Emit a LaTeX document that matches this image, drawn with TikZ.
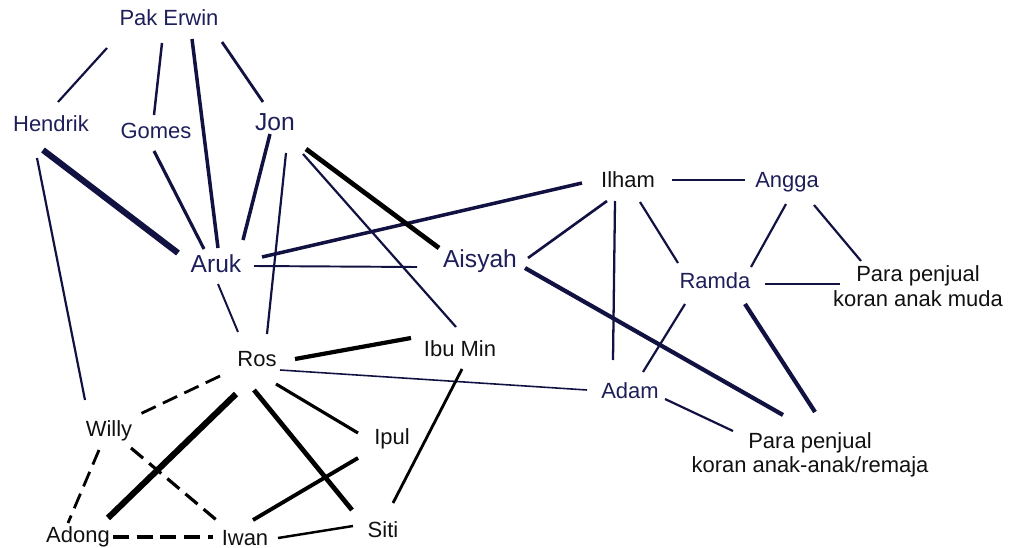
\documentclass[tikz,border=0pt]{standalone}
\usepackage{fontspec}
\setmainfont{Liberation Sans}
\usepackage{tikz}
\usetikzlibrary{calc}
\definecolor{navyline}{RGB}{18,18,66}
\definecolor{navytext}{RGB}{30,30,90}
\definecolor{blacktext}{RGB}{17,17,17}

\begin{document}
\begin{tikzpicture}[x=0.2mm,y=-0.2mm,
  who/.style={font=\fontsize{12.5}{14}\selectfont,text height=9pt,text depth=0pt,inner sep=0pt},
  whobig/.style={who,font=\fontsize{14}{16}\selectfont,text height=10pt},
  crowd/.style={font=\fontsize{12.5}{14}\selectfont,align=center,inner sep=0pt,text=blacktext},
  navylink/.style={draw=navyline,line width=#1},
  blacklink/.style={draw=black,line width=#1},
  dashlink/.style={draw=black,line width=#1,dash pattern=on 9pt off 4.5pt}]
\useasboundingbox (0,0) rectangle (1012,548);
% top group
\node[who,text=navytext] (perwin) at (169,18) {Pak Erwin}; % Pak Erwin
\node[who,text=navytext] (hendrik) at (51,124) {Hendrik}; % Hendrik
\node[who,text=navytext] (gomes) at (156,131) {Gomes}; % Gomes
\node[whobig,text=navytext] (jon) at (275,122) {Jon}; % Jon
\node[whobig,text=navytext] (aruk) at (216,264) {Aruk}; % Aruk
\node[whobig,text=navytext] (aisyah) at (480,259) {Aisyah}; % Aisyah
% right group
\node[who,text=blacktext] (ilham) at (628,180) {Ilham}; % Ilham
\node[who,text=navytext] (angga) at (787,180) {Angga}; % Angga
\node[who,text=navytext] (ramda) at (715,281) {Ramda}; % Ramda
\node[who,text=navytext] (adam) at (630,391) {Adam}; % Adam
\node[crowd] (muda) at (918,286) {Para penjual\\koran anak muda}; % young sellers
\node[crowd] (remaja) at (810,455) {Para penjual\\koran anak-anak/remaja}; % child sellers
% bottom group
\node[who,text=blacktext] (ros) at (257,359) {Ros}; % Ros
\node[who,text=blacktext] (ibumin) at (460,349) {Ibu Min}; % Ibu Min
\node[who,text=blacktext] (willy) at (109,429) {Willy}; % Willy
\node[who,text=blacktext] (ipul) at (392,437) {Ipul}; % Ipul
\node[who,text=blacktext] (adong) at (78,535) {Adong}; % Adong
\node[who,text=blacktext] (iwan) at (245,538) {Iwan}; % Iwan
\node[who,text=blacktext] (siti) at (383,530) {Siti}; % Siti
% navy links
\draw[navylink=1.25pt] ($(perwin)+(-62,30)$) -- ($(hendrik)+(7,-22)$); % Pak Erwin - Hendrik
\draw[navylink=1.4pt] ($(perwin)+(-7,25)$) -- ($(gomes)+(-2,-16)$); % Pak Erwin - Gomes
\draw[navylink=2pt] ($(perwin)+(23,21)$) -- ($(aruk)+(2,-16)$); % Pak Erwin - Aruk
\draw[navylink=1.6pt] ($(perwin)+(53,24)$) -- ($(jon)+(-12,-20)$); % Pak Erwin - Jon
\draw[navylink=3.5pt] ($(hendrik)+(-8,26)$) -- ($(aruk)+(-38,-11)$); % Hendrik - Aruk
\draw[navylink=1.25pt] ($(hendrik)+(-14,34)$) -- ($(willy)+(-24,-29)$); % Hendrik - Willy
\draw[navylink=1.8pt] ($(gomes)+(-2,20)$) -- ($(aruk)+(-12,-15)$); % Gomes - Aruk
\draw[navylink=2pt] ($(jon)+(-5,12)$) -- ($(aruk)+(27,-24)$); % Jon - Aruk
\draw[navylink=1.25pt] ($(jon)+(11,31)$) -- ($(ros)+(10,-25)$); % Jon - Ros
\draw[navylink=1.25pt] ($(jon)+(28,32)$) -- ($(ibumin)+(-4,-22)$); % Jon - Ibu Min
\draw[navylink=2pt] ($(aruk)+(46,-7)$) -- ($(ilham)+(-46,3)$); % Aruk - Ilham
\draw[navylink=1.1pt] ($(aruk)+(38,2)$) -- ($(aisyah)+(-63,8)$); % Aruk - Aisyah
\draw[navylink=1.1pt] ($(aruk)+(2,20)$) -- ($(ros)+(-19,-27)$); % Aruk - Ros
\draw[navylink=1.25pt] ($(ilham)+(44,0)$) -- ($(angga)+(-42,0)$); % Ilham - Angga
\draw[navylink=1.5pt] ($(ilham)+(-21,21)$) -- ($(aisyah)+(48,-1)$); % Ilham - Aisyah
\draw[navylink=1.3pt] ($(ilham)+(-13,21)$) -- ($(adam)+(-17,-31)$); % Ilham - Adam
\draw[navylink=1.25pt] ($(ilham)+(12,22)$) -- ($(ramda)+(-37,-18)$); % Ilham - Ramda
\draw[navylink=1.25pt] ($(angga)+(-1,24)$) -- ($(ramda)+(36,-14)$); % Angga - Ramda
\draw[navylink=1.25pt] ($(angga)+(27,25)$) -- ($(muda)+(-57,-25)$); % Angga - young sellers
\draw[navylink=1.25pt] ($(ramda)+(50,3)$) -- ($(muda)+(-78,-2)$); % Ramda - young sellers
\draw[navylink=1.25pt] ($(ramda)+(-30,23)$) -- ($(adam)+(13,-19)$); % Ramda - Adam
\draw[navylink=2.4pt] ($(ramda)+(30,23)$) -- ($(remaja)+(5,-43)$); % Ramda - child sellers
\draw[navylink=2.4pt] ($(aisyah)+(45,9)$) -- ($(remaja)+(-27,-40)$); % Aisyah - child sellers
\draw[navylink=1.25pt] ($(adam)+(35,8)$) -- ($(remaja)+(-77,-24)$); % Adam - child sellers
\draw[navylink=0.9pt] ($(ros)+(23,11)$) -- ($(adam)+(-43,-1)$); % Ros - Adam
% black links
\draw[blacklink=2.7pt] ($(jon)+(31,27)$) -- ($(aisyah)+(-41,-11)$); % Jon - Aisyah
\draw[blacklink=2.4pt] ($(ros)+(38,0)$) -- ($(ibumin)+(-49,-11)$); % Ros - Ibu Min
\draw[blacklink=1.6pt] ($(ibumin)+(2,20)$) -- ($(siti)+(10,-27)$); % Ibu Min - Siti
\draw[dashlink=1.6pt] ($(ros)+(-37,17)$) -- ($(willy)+(29,-14)$); % Ros - Willy
\draw[blacklink=3.5pt] ($(ros)+(-21,35)$) -- ($(adong)+(30,-17)$); % Ros - Adong
\draw[blacklink=2.7pt] ($(ros)+(-3,31)$) -- ($(siti)+(-31,-20)$); % Ros - Siti
\draw[blacklink=1.8pt] ($(ros)+(19,25)$) -- ($(ipul)+(-34,-4)$); % Ros - Ipul
\draw[dashlink=1.6pt] ($(willy)+(-10,21)$) -- ($(adong)+(-10,-12)$); % Willy - Adong
\draw[dashlink=1.8pt] ($(willy)+(22,19)$) -- ($(iwan)+(-25,-15)$); % Willy - Iwan
\draw[blacklink=2.2pt] ($(ipul)+(-34,21)$) -- ($(iwan)+(8,-18)$); % Ipul - Iwan
\draw[dashlink=2.4pt] ($(adong)+(35,2)$) -- ($(iwan)+(-32,-1)$); % Adong - Iwan
\draw[blacklink=1.4pt] ($(iwan)+(33,0)$) -- ($(siti)+(-30,-4)$); % Iwan - Siti
\end{tikzpicture}
\end{document}
